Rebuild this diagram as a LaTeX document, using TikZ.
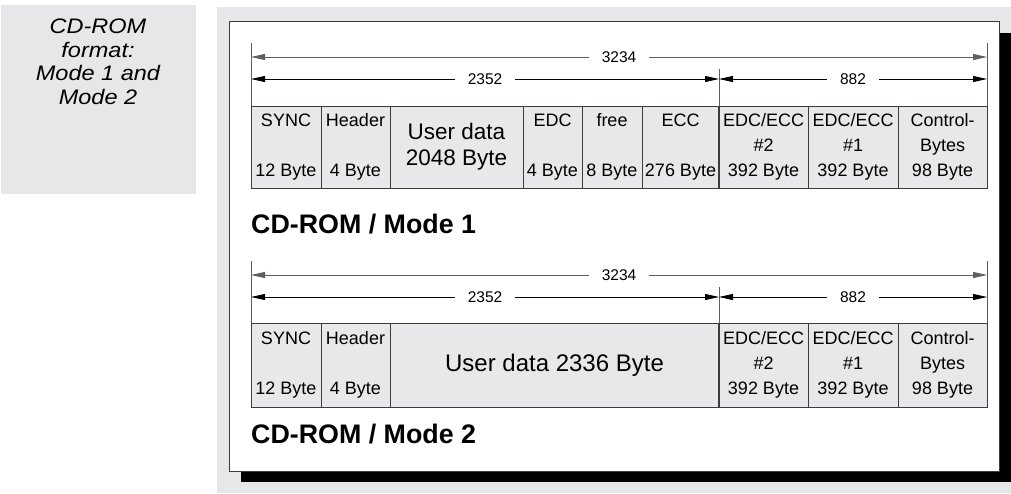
\documentclass[tikz,border=0pt]{standalone}
\usepackage{fontspec}
\setmainfont{Liberation Sans}
\newfontfamily\sidefont[FakeStretch=1.12]{Liberation Sans}
\usetikzlibrary{arrows.meta}
\definecolor{panel}{RGB}{230,231,233}
\definecolor{cellfill}{RGB}{231,232,234}
\definecolor{frame}{RGB}{60,60,60}
\definecolor{dimline}{RGB}{95,95,95}
\tikzset{
  cell/.style={draw=frame, fill=cellfill, line width=0.9pt, inner sep=0pt, align=center,
    font=\fontsize{18}{25}\selectfont},
  bigcell/.style={cell, font=\fontsize{22.5}{26}\selectfont},
  dimlbl/.style={fill=white, inner xsep=13pt, inner ysep=1pt, font=\fontsize{15.5}{18}\selectfont},
  tick/.style={draw=dimline, line width=0.8pt},
  dimarrow/.style={line width=0.8pt, -{Triangle[length=14pt,width=6pt]}},
  title/.style={anchor=base west, inner sep=0pt, font=\bfseries\fontsize{26.8}{30}\selectfont},
  divider/.style={draw=frame, line width=2pt}
}
\begin{document}
\begin{tikzpicture}[x=1pt,y=-1pt]
\useasboundingbox (0,0) rectangle (1011,493);
% left panel
\fill[panel] (1,5) rectangle (196,194);
\node[align=center, inner sep=0pt, font=\sidefont\itshape\fontsize{21}{23.5}\selectfont] (side) at (98,62)
  {CD-ROM\\format:\\Mode 1 and\\Mode 2};
% right panel with frame and shadow
\fill[panel] (217,7) rectangle (1011,493);
\fill[black] (241,33) rectangle (1011,482);
\draw[frame, fill=white, line width=0.9pt] (229,21) rectangle (999,471);

% ---------- Mode 1 ----------
\draw[tick] (251,43) -- (251,106);
\draw[tick] (987,43) -- (987,106);
\draw[tick] (719,69) -- (719,106);
\coordinate (m1L3) at (251,57);
\coordinate (m1R3) at (987,57);
\coordinate (m1La) at (251,79);
\coordinate (m1Ma) at (719,79);
\coordinate (m1Rb) at (987,79);
\node[dimlbl] (m1d3234) at (619,57) {3234};
\node[dimlbl] (m1d2352) at (485,79) {2352};
\node[dimlbl] (m1d882) at (853,79) {882};
\draw[dimarrow, draw=dimline] (m1d3234.west) -- (m1L3);
\draw[dimarrow, draw=dimline] (m1d3234.east) -- (m1R3);
\draw[dimarrow] (m1d2352.west) -- (m1La);
\draw[dimarrow] (m1d2352.east) -- (m1Ma);
\draw[dimarrow] (m1d882.west) -- (m1Ma);
\draw[dimarrow] (m1d882.east) -- (m1Rb);

\node[cell, minimum width=70pt, minimum height=82pt] (m1sync) at (286,147) {SYNC\\\mbox{}\\12 Byte};
\node[cell, minimum width=69pt, minimum height=82pt] (m1head) at (355.5,147) {Header\\\mbox{}\\4 Byte};
\node[bigcell, minimum width=133pt, minimum height=82pt] (m1user) at (456.5,147) {User data\\2048 Byte};
\node[cell, minimum width=59pt, minimum height=82pt] (m1edc) at (552.5,147) {EDC\\\mbox{}\\4 Byte};
\node[cell, minimum width=60pt, minimum height=82pt] (m1free) at (612,147) {free\\\mbox{}\\8 Byte};
\node[cell, minimum width=77pt, minimum height=82pt] (m1ecc) at (680.5,147) {ECC\\\mbox{}\\276 Byte};
\node[cell, minimum width=89pt, minimum height=82pt] (m1ee2) at (763.5,147) {EDC/ECC\\\#2\\392 Byte};
\node[cell, minimum width=90pt, minimum height=82pt] (m1ee1) at (853,147) {EDC/ECC\\\#1\\392 Byte};
\node[cell, minimum width=89pt, minimum height=82pt] (m1ctl) at (942.5,147) {Control-\\Bytes\\98 Byte};
\draw[divider] (m1ecc.north east) -- (m1ecc.south east);

\node[title] (m1title) at (251,233) {CD-ROM / Mode 1};

% ---------- Mode 2 ----------
\draw[tick] (251,261) -- (251,323);
\draw[tick] (987,261) -- (987,323);
\draw[tick] (719,287) -- (719,323);
\coordinate (m2L3) at (251,275);
\coordinate (m2R3) at (987,275);
\coordinate (m2La) at (251,297);
\coordinate (m2Ma) at (719,297);
\coordinate (m2Rb) at (987,297);
\node[dimlbl] (m2d3234) at (619,275) {3234};
\node[dimlbl] (m2d2352) at (485,297) {2352};
\node[dimlbl] (m2d882) at (853,297) {882};
\draw[dimarrow, draw=dimline] (m2d3234.west) -- (m2L3);
\draw[dimarrow, draw=dimline] (m2d3234.east) -- (m2R3);
\draw[dimarrow] (m2d2352.west) -- (m2La);
\draw[dimarrow] (m2d2352.east) -- (m2Ma);
\draw[dimarrow] (m2d882.west) -- (m2Ma);
\draw[dimarrow] (m2d882.east) -- (m2Rb);

\node[cell, minimum width=70pt, minimum height=84pt] (m2sync) at (286,365) {SYNC\\\mbox{}\\12 Byte};
\node[cell, minimum width=69pt, minimum height=84pt] (m2head) at (355.5,365) {Header\\\mbox{}\\4 Byte};
\node[bigcell, minimum width=329pt, minimum height=84pt, font=\fontsize{24}{26}\selectfont] (m2user) at (554.5,365) {User data 2336 Byte};
\node[cell, minimum width=89pt, minimum height=84pt] (m2ee2) at (763.5,365) {EDC/ECC\\\#2\\392 Byte};
\node[cell, minimum width=90pt, minimum height=84pt] (m2ee1) at (853,365) {EDC/ECC\\\#1\\392 Byte};
\node[cell, minimum width=89pt, minimum height=84pt] (m2ctl) at (942.5,365) {Control-\\Bytes\\98 Byte};
\draw[divider] (m2user.north east) -- (m2user.south east);

\node[title] (m2title) at (251,443) {CD-ROM / Mode 2};
\end{tikzpicture}
\end{document}
